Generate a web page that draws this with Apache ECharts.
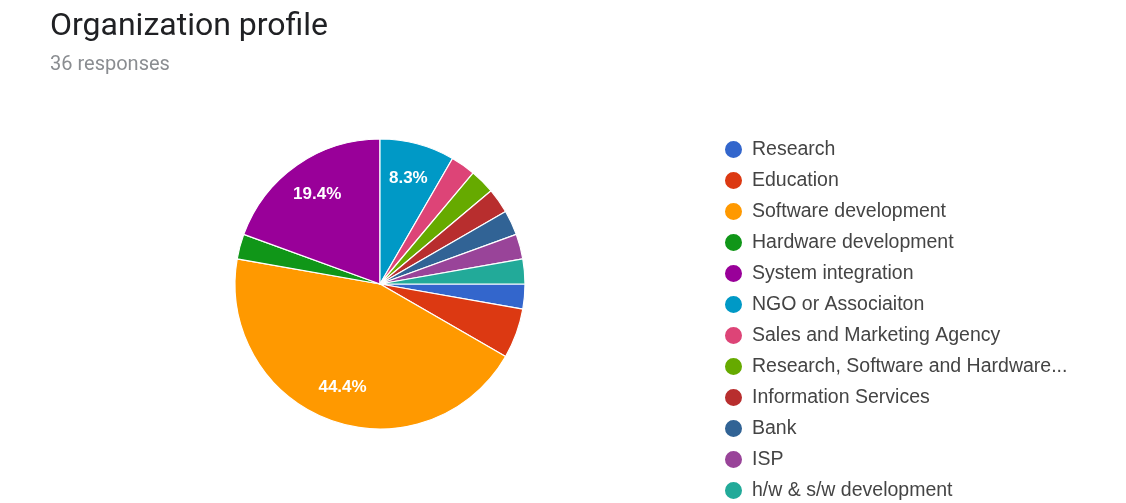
<!DOCTYPE html>
<html>
<head>
<meta charset="utf-8">
<script src="https://cdn.jsdelivr.net/npm/echarts@6/dist/echarts.min.js"></script>
<style>
  html, body { margin: 0; padding: 0; background: #fff; }
  #chart { width: 1126px; height: 503px; }
</style>
</head>
<body>
<div id="chart"></div>
<script>
// categories in legend order, response counts
const categories = [
  'Research',
  'Education',
  'Software development',
  'Hardware development',
  'System integration',
  'NGO or Associaiton',
  'Sales and Marketing Agency',
  'Research, Software and Hardware...',
  'Information Services',
  'Bank',
  'ISP',
  'h/w & s/w development'
];
const counts = [1, 2, 16, 1, 7, 3, 1, 1, 1, 1, 1, 1];
const colors = ['#3366cc', '#dc3912', '#ff9900', '#109618', '#990099', '#0099c6',
  '#dd4477', '#66aa00', '#b82e2e', '#316395', '#994499', '#22aa99'];

const total = counts.reduce((a, b) => a + b, 0);
const pct = v => (v / total * 100).toFixed(1) + '%';

const chart = echarts.init(document.getElementById('chart'));

chart.setOption({
  animation: false,
  color: colors,
  title: {
    text: 'Organization profile',
    subtext: total + ' responses',
    left: 50,
    top: 11,
    padding: 0,
    itemGap: 12,
    textStyle: { fontFamily: 'Roboto', fontSize: 32, fontWeight: 'normal', color: '#202124' },
    subtextStyle: { fontFamily: 'Roboto', fontSize: 20, color: '#8a8d91' }
  },
  legend: {
    orient: 'vertical',
    left: 723,
    top: 139,
    height: 400,
    padding: 0,
    icon: 'circle',
    itemWidth: 19,
    itemHeight: 19,
    itemGap: 10,
    data: categories,
    textStyle: {
      fontFamily: 'Liberation Sans',
      fontSize: 19.5,
      lineHeight: 21,
      color: '#444',
      padding: [0, 0, 0, 4]
    }
  },
  series: [
    {
      type: 'pie',
      center: [380, 284],
      radius: 145,
      startAngle: 0,
      clockwise: true,
      silent: true,
      itemStyle: { borderColor: '#fff', borderWidth: 1.2 },
      label: { show: false },
      labelLine: { show: false },
      data: categories.map((c, i) => ({ name: c, value: counts[i] }))
    },
    {
      // label ring: puts the percentages at about 0.72 of the radius
      type: 'pie',
      center: [380, 284],
      radius: [68, 145],
      startAngle: 0,
      clockwise: true,
      silent: true,
      itemStyle: { color: 'transparent' },
      labelLine: { show: false },
      label: {
        position: 'inside',
        color: '#fff',
        fontFamily: 'Liberation Sans',
        fontWeight: 'bold',
        fontSize: 17,
        formatter: p => p.value >= 3 ? pct(p.value) : ''
      },
      data: categories.map((c, i) => ({ name: c, value: counts[i] }))
    }
  ]
});
</script>
</body>
</html>
